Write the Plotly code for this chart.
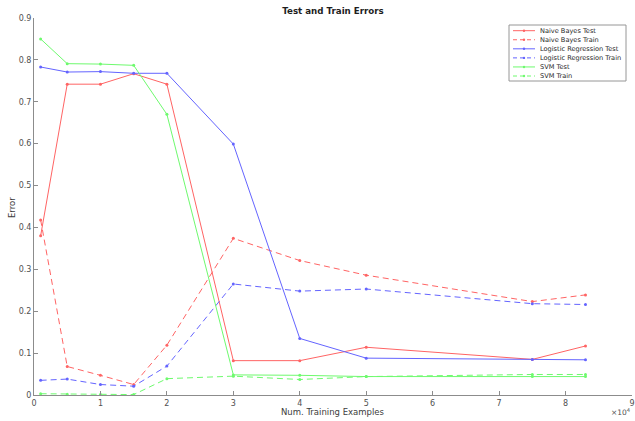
import plotly.graph_objects as go

x_examples = [1000, 5000, 10000, 15000, 20000, 30000, 40000, 50000, 75000, 83000]

nb_test = [0.380, 0.742, 0.742, 0.767, 0.742, 0.082, 0.082, 0.114, 0.085, 0.117]
nb_train = [0.418, 0.068, 0.047, 0.025, 0.119, 0.374, 0.321, 0.286, 0.223, 0.239]
lr_test = [0.783, 0.771, 0.772, 0.768, 0.768, 0.599, 0.135, 0.088, 0.085, 0.084]
lr_train = [0.035, 0.038, 0.025, 0.021, 0.069, 0.265, 0.248, 0.253, 0.218, 0.216]
svm_test = [0.850, 0.791, 0.790, 0.787, 0.670, 0.048, 0.047, 0.044, 0.044, 0.044]
svm_train = [0.003, 0.002, 0.001, 0.001, 0.039, 0.045, 0.037, 0.044, 0.049, 0.049]

x_tick_vals = [0, 10000, 20000, 30000, 40000, 50000, 60000, 70000, 80000, 90000]
x_tick_text = ["0", "1", "2", "3", "4", "5", "6", "7", "8", "9"]
y_tick_vals = [0, 0.1, 0.2, 0.3, 0.4, 0.5, 0.6, 0.7, 0.8, 0.9]
y_tick_text = ["0", "0.1", "0.2", "0.3", "0.4", "0.5", "0.6", "0.7", "0.8", "0.9"]

RED = "rgb(255,100,100)"
BLUE = "rgb(100,100,255)"
GREEN = "rgb(110,250,110)"
DASH = "6px,4px"

series = [
    ("Naive Bayes Test", nb_test, RED, "solid"),
    ("Naive Bayes Train", nb_train, RED, DASH),
    ("Logistic Regression Test", lr_test, BLUE, "solid"),
    ("Logistic Regression Train", lr_train, BLUE, DASH),
    ("SVM Test", svm_test, GREEN, "solid"),
    ("SVM Train", svm_train, GREEN, DASH),
]

W, H = 635, 421
L, R, T, B = 34, 3, 18, 26
PW, PH = W - L - R, H - T - B


def px_x(p):
    return (p - L) / PW


def px_y(p):
    return (H - B - p) / PH


fig = go.Figure()
for name, vals, color, dash in series:
    fig.add_trace(go.Scatter(
        x=x_examples, y=vals, name=name, mode="lines+markers",
        line=dict(color=color, width=1, dash=dash),
        marker=dict(color=color, size=3, symbol="circle"),
        showlegend=False,
    ))

axis_common = dict(
    showgrid=False, zeroline=False, showline=True, linecolor="rgb(140,140,140)",
    linewidth=1, ticks="inside", ticklen=4, tickcolor="rgb(140,140,140)",
    tickfont=dict(family="DejaVu Sans", size=8, color="rgb(80,80,80)"),
    mirror=False, automargin=False,
)

fig.update_layout(
    width=W, height=H,
    margin=dict(l=L, r=R, t=T, b=B, autoexpand=False),
    paper_bgcolor="white", plot_bgcolor="white",
    title=dict(text="<b>Test and Train Errors</b>", x=0.5, xanchor="center", xref="paper",
               y=1 - 11 / H, yanchor="middle",
               font=dict(family="DejaVu Sans", size=8.7, color="rgb(30,30,30)")),
    xaxis=dict(range=[0, 90000], tickvals=x_tick_vals, ticktext=x_tick_text, **axis_common),
    yaxis=dict(range=[0, 0.9], tickvals=y_tick_vals, ticktext=y_tick_text, **axis_common),
    showlegend=False,
)

# axis titles
fig.add_annotation(text="Num. Training Examples", xref="paper", yref="paper",
                   x=px_x(333), y=px_y(412), xanchor="center", yanchor="middle",
                   showarrow=False,
                   font=dict(family="DejaVu Sans", size=8.5, color="rgb(60,60,60)"))
fig.add_annotation(text="Error", xref="paper", yref="paper",
                   x=px_x(12), y=px_y(207), xanchor="center", yanchor="middle",
                   showarrow=False, textangle=-90,
                   font=dict(family="DejaVu Sans", size=8.5, color="rgb(60,60,60)"))
fig.add_annotation(text="×10<sup>4</sup>", xref="paper", yref="paper",
                   x=px_x(633), y=px_y(412), xanchor="right", yanchor="middle",
                   showarrow=False,
                   font=dict(family="DejaVu Sans", size=7.5, color="rgb(80,80,80)"))

# legend box
fig.add_shape(type="rect", xref="paper", yref="paper",
              x0=px_x(509), x1=px_x(626), y0=px_y(81), y1=px_y(25),
              line=dict(color="rgb(150,150,150)", width=1), fillcolor="white", layer="above")
for i, (name, vals, color, dash) in enumerate(series):
    yy = 30.7 + i * 9.06
    fig.add_shape(type="line", xref="paper", yref="paper",
                  x0=px_x(513), x1=px_x(535), y0=px_y(yy), y1=px_y(yy),
                  line=dict(color=color, width=1, dash="4px,3px" if dash != "solid" else "solid"),
                  layer="above")
    fig.add_shape(type="circle", xref="paper", yref="paper",
                  x0=px_x(522.8), x1=px_x(525.2), y0=px_y(yy + 1.2), y1=px_y(yy - 1.2),
                  line=dict(color=color, width=0), fillcolor=color, layer="above")
    fig.add_annotation(text=name, xref="paper", yref="paper",
                       x=px_x(537.5), y=px_y(yy), xanchor="left", yanchor="middle",
                       showarrow=False,
                       font=dict(family="DejaVu Sans", size=6.6, color="rgb(40,40,40)"))

fig.write_html("out.html", config={"displayModeBar": False},
               post_script="document.body.style.margin='0px';document.body.style.overflow='hidden';")
